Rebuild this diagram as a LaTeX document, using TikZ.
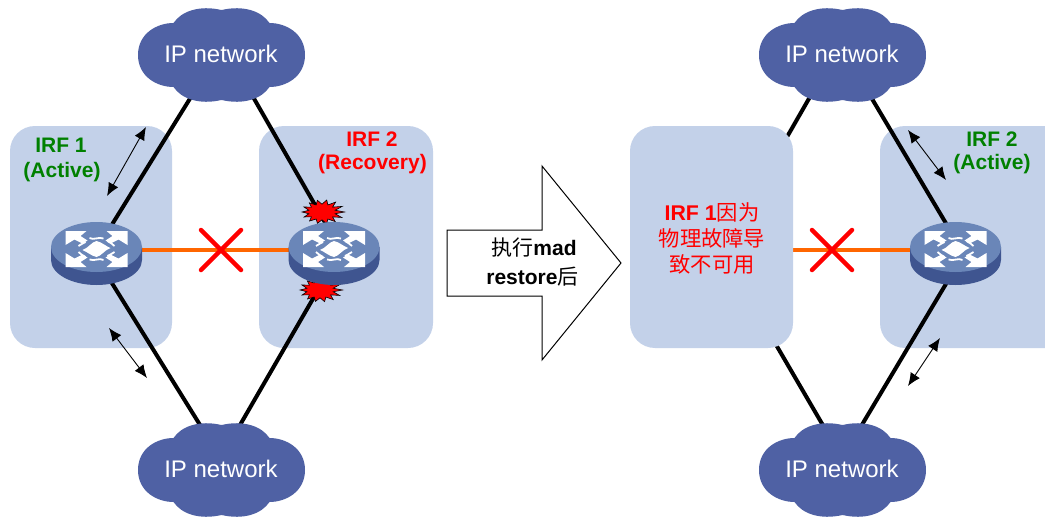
\documentclass[tikz,border=0pt]{standalone}
\usepackage{fontspec}
\setmainfont{Liberation Sans}
\newfontfamily\cjk{Noto Sans CJK SC}
\usetikzlibrary{arrows.meta}
\definecolor{panelc}{HTML}{C3D1E9}
\definecolor{cloudc}{HTML}{4F61A4}
\definecolor{swtop}{HTML}{6A86B8}
\definecolor{swside}{HTML}{3F5590}
\definecolor{orangec}{HTML}{FF6600}
\definecolor{greenc}{HTML}{008000}
\tikzset{
  panel/.style={fill=panelc,rounded corners=25pt,minimum height=222pt,inner sep=0pt},
  link/.style={line width=4pt,black},
  hb/.style={line width=4pt,orangec},
  crossx/.style={line width=4.5pt,red,line cap=round},
  dbl/.style={line width=0.9pt,{Latex[length=13pt,width=11pt]}-{Latex[length=13pt,width=11pt]}},
  cloudtxt/.style={text=white,font=\fontsize{24}{28}\selectfont,inner sep=0pt},
  grn/.style={text=greenc,font=\fontsize{21}{25}\selectfont\bfseries,inner sep=0pt},
  rd/.style={text=red,font=\fontsize{21}{25}\selectfont\bfseries,inner sep=0pt},
  rdc/.style={text=red,font=\fontsize{21.3}{25}\selectfont,inner sep=0pt},
  mad/.style={text=black,font=\fontsize{21}{24}\selectfont,inner sep=0pt},
  wave/.style={white,line width=1.8pt},
}
% cloud centred at #1
\newcommand{\cloudshape}[1]{%
\fill[cloudc,shift={#1}] (-48,-32) .. controls (-40,-44) and (-22,-50) .. (0,-45)
 .. controls (22,-50) and (40,-44) .. (48,-32)
 .. controls (64,-32) and (83.5,-22) .. (83.5,0)
 .. controls (83.5,22) and (64,32) .. (48,32)
 .. controls (40,44) and (22,50) .. (0,45)
 .. controls (-22,50) and (-40,44) .. (-48,32)
 .. controls (-64,32) and (-83.5,22) .. (-83.5,0)
 .. controls (-83.5,-22) and (-64,-32) .. (-48,-32) -- cycle;}
\newcommand{\corner}[2]{%
\fill[white,xscale=#1,yscale=#2] (-31,-18) -- (-10,-18) -- (-16,-13) -- (-9,-8.5) -- (-14,-5.5) -- (-22,-9.5) -- (-31,-4) -- cycle;}
% switch: centre of its top ellipse at #1
\newcommand{\switchshape}[1]{%
\begin{scope}[shift={#1}]
\fill[swside] (-45.5,0) -- (-45.5,13) arc[start angle=180,end angle=0,x radius=45.5,y radius=25] -- (45.5,0) -- cycle;
\fill[swtop] (0,0) ellipse[x radius=45.5,y radius=25];
\begin{scope}[yshift=-2pt]
\corner{1}{1}\corner{-1}{1}\corner{1}{-1}\corner{-1}{-1}
\fill[white] (-14,1) .. controls (-8,-1) and (-5,-7) .. (0,-8)
 .. controls (5,-7) and (9,-3) .. (14,-1)
 .. controls (8,1) and (5,7) .. (0,8)
 .. controls (-5,7) and (-9,3) .. (-14,1) -- cycle;
\draw[wave] (-7,-11) .. controls (-3,-8.5) and (2,-12.5) .. (7,-10.5);
\draw[wave] (-7,10.5) .. controls (-2,12.5) and (3,8.5) .. (7,11);
\draw[wave] (-18,-3) .. controls (-15,-5) and (-13,-6) .. (-11,-7);
\draw[wave] (18,3) .. controls (15,5) and (13,6) .. (11,7);
\draw[wave] (-18,3) .. controls (-16,6) and (-13,6) .. (-11,8);
\draw[wave] (18,-3) .. controls (16,-6) and (13,-6) .. (11,-8);
\end{scope}
\end{scope}}
\newcommand{\burst}[2]{%
\fill[red,draw=black,line width=0.6pt] plot[samples at={0,...,27},variable=\i]
 ({#1+22.5*(mod(\i,2)==0 ? 1-0.12*abs(sin(\i*97)) : 0.6)*cos(\i*360/28)},
  {#2+13*(mod(\i,2)==0 ? 1-0.12*abs(sin(\i*97)) : 0.6)*sin(\i*360/28)}) -- cycle;}
\begin{document}
\begin{tikzpicture}[x=1pt,y=-1pt]
\useasboundingbox (0,0) rectangle (1045,519);
\clip (0,0) rectangle (1045,519);
% panels under the links
\node[panel,minimum width=162pt] (p1) at (91,237) {};
\node[panel,minimum width=174pt] (p2) at (346,237) {};
\node[panel,minimum width=200pt] (p4) at (980,237) {};
% anchor points
\coordinate (a1) at (95,252);   \coordinate (a2) at (217,55);
\coordinate (b1) at (92.6,252); \coordinate (b2) at (228,470);
\coordinate (d1) at (342,252);  \coordinate (d2) at (229,55);
\coordinate (e1) at (340,252);  \coordinate (e2) at (214,470);
\coordinate (f1) at (963,252);  \coordinate (f2) at (846,55);
\coordinate (g1) at (965,252);  \coordinate (g2) at (835,470);
\coordinate (h1) at (721,252);  \coordinate (h2) at (834,55);
\coordinate (i1) at (722,252);  \coordinate (i2) at (849,470);
\coordinate (o1) at (96,250);   \coordinate (o2) at (334,250);
\coordinate (o3) at (760,250);  \coordinate (o4) at (956,250);
\draw[link] (a1) -- (a2);
\draw[link] (b1) -- (b2);
\draw[link] (d1) -- (d2);
\draw[link] (e1) -- (e2);
\draw[link] (f1) -- (f2);
\draw[link] (g1) -- (g2);
\draw[link] (h1) -- (h2);
\draw[link] (i1) -- (i2);
\draw[hb] (o1) -- (o2);
\draw[hb] (o3) -- (o4);
\node[panel,minimum width=163pt] (p3) at (711.5,237) {};
% clouds
\cloudshape{(221.5,55)} \cloudshape{(221.5,470)} \cloudshape{(842.5,55)} \cloudshape{(842.5,470)}
\node[cloudtxt] (t1) at (221,54) {IP network};
\node[cloudtxt] (t2) at (221,469) {IP network};
\node[cloudtxt] (t3) at (842,54) {IP network};
\node[cloudtxt] (t4) at (842,469) {IP network};
% bursts & switches
\burst{322}{212}
\burst{320}{290}
\switchshape{(96.5,247)}
\switchshape{(334,247)}
\switchshape{(955.5,247)}
% crosses
\coordinate (x1a) at (201,230); \coordinate (x1b) at (241,270);
\coordinate (x1c) at (241,230); \coordinate (x1d) at (201,270);
\coordinate (x2a) at (812,230); \coordinate (x2b) at (852,270);
\coordinate (x2c) at (852,230); \coordinate (x2d) at (812,270);
\draw[crossx] (x1a) -- (x1b);
\draw[crossx] (x1c) -- (x1d);
\draw[crossx] (x2a) -- (x2b);
\draw[crossx] (x2c) -- (x2d);
% double arrows
\coordinate (q1) at (146,127); \coordinate (q2) at (107,196);
\coordinate (q3) at (109,328); \coordinate (q4) at (147,378);
\coordinate (q5) at (908,130); \coordinate (q6) at (946,180);
\coordinate (q7) at (940,338); \coordinate (q8) at (908,386);
\draw[dbl] (q1) -- (q2);
\draw[dbl] (q3) -- (q4);
\draw[dbl] (q5) -- (q6);
\draw[dbl] (q7) -- (q8);
% big arrow
\draw[fill=white,line width=1pt] (447,230) -- (542,230) -- (542,166) -- (621,263) -- (542,360) -- (542,296) -- (447,296) -- cycle;
\node[mad] (m1) at (534,248) {{\cjk 执行}\textbf{mad}};
\node[mad] (m2) at (532.5,277) {\textbf{restore}{\cjk 后}};
% labels
\node[grn] (l1) at (61,145) {IRF 1};
\node[grn] (l2) at (62,172) {(Active)};
\node[rd] (l3) at (372,139) {IRF 2};
\node[rd] (l4) at (372.5,164.5) {(Recovery)};
\node[grn] (l5) at (992,139) {IRF 2};
\node[grn] (l6) at (992,164.5) {(Active)};
\node[rdc] (r1) at (712,212) {\textbf{IRF 1}{\cjk 因为}};
\node[rdc] (r2) at (712,238) {\cjk 物理故障导};
\node[rdc] (r3) at (712,264) {\cjk 致不可用};
\end{tikzpicture}
\end{document}
